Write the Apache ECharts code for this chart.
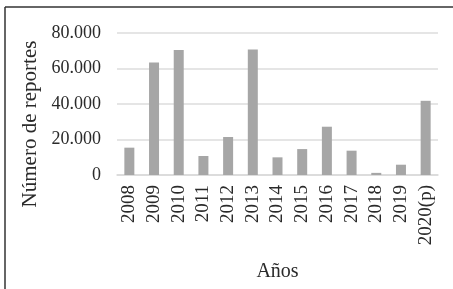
<!DOCTYPE html>
<html>
<head>
    <meta charset="utf-8">
    <title>ECharts</title>
    <script src="https://cdn.jsdelivr.net/npm/echarts@6/dist/echarts.min.js"></script>
    <style>
        body { margin: 0; background: #fff; }
    </style>
</head>
<body>
    <div id="main" style="width: 453px;height:289px;"></div>
    <script type="text/javascript">
        var years = ['2008', '2009', '2010', '2011', '2012', '2013', '2014', '2015', '2016', '2017', '2018', '2019', '2020(p)'];
        var reportes = [15400, 63400, 70400, 10700, 21400, 70700, 9950, 14600, 27200, 13700, 1200, 5800, 41800];
        var yTicks = [0, 20000, 40000, 60000, 80000];

        var myChart = echarts.init(document.getElementById('main'));
        var font = 'Liberation Serif';

        function fmt(v) {
            if (v === 0) return '0';
            return (v / 1000).toFixed(0) + '.000';
        }

        option = {
            animation: false,
            backgroundColor: '#fff',
            grid: { left: 117, right: 15, top: 33, bottom: 114 },
            graphic: [
                { type: 'line', shape: { x1: 5, y1: 7, x2: 453, y2: 7 }, style: { stroke: '#333', lineWidth: 1.5 } },
                { type: 'line', shape: { x1: 5, y1: 7, x2: 5, y2: 289 }, style: { stroke: '#333', lineWidth: 1.5 } }
            ],
            xAxis: {
                type: 'category',
                data: years,
                name: 'Años',
                nameLocation: 'middle',
                nameGap: 87,
                nameTextStyle: { fontFamily: font, fontSize: 20, color: '#2a2a2a' },
                axisLine: { lineStyle: { color: '#d9d9d9', width: 1.5 } },
                axisTick: { show: false },
                axisLabel: { rotate: 90, interval: 0, fontFamily: font, fontSize: 19, color: '#2a2a2a', margin: 10 }
            },
            yAxis: {
                type: 'value',
                min: yTicks[0],
                max: yTicks[yTicks.length - 1],
                interval: 20000,
                name: 'Número de reportes',
                nameLocation: 'middle',
                nameGap: 73,
                nameTextStyle: { fontFamily: font, fontSize: 21, color: '#2a2a2a', padding: [0, 40, 0, 0] },
                axisLine: { show: false },
                axisTick: { show: false },
                splitLine: { lineStyle: { color: '#dcdcdc', width: 1.5 } },
                axisLabel: { formatter: fmt, fontFamily: font, fontSize: 18, color: '#2a2a2a', margin: 16 }
            },
            series: [{
                type: 'bar',
                data: reportes,
                barWidth: 10,
                itemStyle: { color: '#a6a6a6' }
            }]
        };

        myChart.setOption(option);
    </script>
</body>
</html>
